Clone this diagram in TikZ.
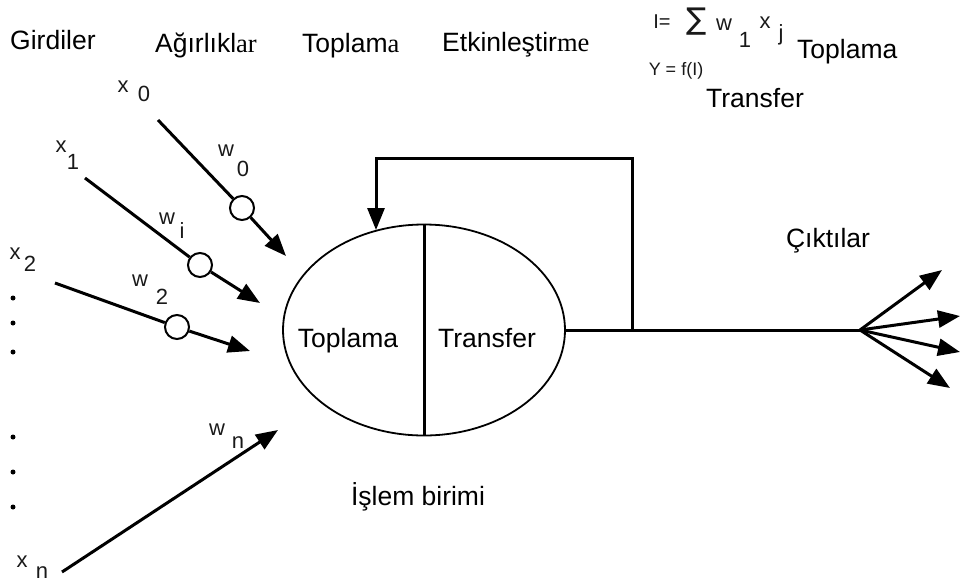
\documentclass[tikz,border=0pt]{standalone}
\usepackage{fontspec}
\setmainfont{Liberation Sans}
\newfontfamily\serifpart{Liberation Serif}
\newfontfamily\sumfont{DejaVu Sans}
\usetikzlibrary{arrows.meta,shapes.geometric}
\begin{document}
\begin{tikzpicture}[x=1pt,y=-1pt,
  big/.style={font=\fontsize{26.5}{29}\selectfont, inner sep=0pt, anchor=base west},
  lbl/.style={font=\fontsize{22}{24}\selectfont, text=black!90, inner sep=0pt},
  sml/.style={font=\fontsize{18}{20}\selectfont, text=black!90, inner sep=0pt},
  wire/.style={line width=3pt},
  arr/.style={wire, -{Triangle[length=22pt,width=17pt]}},
  wcirc/.style={circle, draw, line width=2pt, fill=white, minimum size=24pt, inner sep=0pt},
  dotn/.style={circle, fill=black, minimum size=5pt, inner sep=0pt}]
\useasboundingbox (0,0) rectangle (960,584);

% top titles
\node[big] (tg) at (10,49) {Girdiler};
\node[big] (ta) at (155,52) {Ağırlıkl{\serifpart ar}};
\node[big] (tt) at (302,52) {Toplam{\serifpart a}};
\node[big] (te) at (442,51) {Etkinleştir{\serifpart me}};

% formula
\node[font=\fontsize{20}{22}\selectfont, inner sep=0pt, text=black!90] (fI) at (662,22) {I=};
\node[font=\sumfont\fontsize{30}{32}\selectfont, inner sep=0pt, text=black!90] (fS) at (697,22) {∑};
\node[lbl] (fw) at (724,25) {w};
\node[lbl] (f1) at (745,40) {1};
\node[lbl] (fx) at (765,23) {x};
\node[lbl] (fj) at (781,35) {j};
\node[big] (ft) at (797,58) {Toplama};
\node[sml] (fY) at (676,71) {Y = f(I)};
\node[big] (ftr) at (706,107) {Transfer};

% processing unit
\node[draw, ellipse, line width=1.8pt, minimum width=282pt, minimum height=211pt, inner sep=0pt] (E) at (424,330) {};
\draw[wire] (E.north) -- (E.south);
\node[big, anchor=base] (el) at (348,347) {Toplama};
\node[big, anchor=base] (er) at (487,347) {Transfer};
\node[big, anchor=center] (eb) at (418,497) {İşlem birimi};

% inputs
\node[lbl] (x0a) at (123,87) {x};
\node[lbl] (x0b) at (144,94) {0};
\coordinate (s0) at (158,120);
\node[wcirc] (c0) at (242,208) {};
\coordinate (e0) at (286,256);
\draw[wire] (s0) -- (c0);
\draw[arr] (c0) -- (e0);
\node[lbl] (w0a) at (226,151) {w};
\node[lbl] (w0b) at (243,169) {0};

\node[lbl] (x1a) at (61,147) {x};
\node[lbl] (x1b) at (73,162) {1};
\coordinate (s1) at (85,178);
\node[wcirc] (c1) at (200,265) {};
\coordinate (e1) at (260,303);
\draw[wire] (s1) -- (c1);
\draw[arr] (c1) -- (e1);
\node[lbl] (wia) at (167,219) {w};
\node[lbl] (wib) at (182,231) {i};

\node[lbl] (x2a) at (15,254) {x};
\node[lbl] (x2b) at (30,264) {2};
\coordinate (s2) at (55,283);
\node[wcirc] (c2) at (177,327) {};
\coordinate (e2) at (250,351);
\draw[wire] (s2) -- (c2);
\draw[arr] (c2) -- (e2);
\node[lbl] (w2a) at (140,281) {w};
\node[lbl] (w2b) at (162,297) {2};

\node[dotn] (d1) at (13,298) {};
\node[dotn] (d2) at (13,323) {};
\node[dotn] (d3) at (13,352) {};
\node[dotn] (d4) at (13,437) {};
\node[dotn] (d5) at (13,472) {};
\node[dotn] (d6) at (13,507) {};

\node[lbl] (xna) at (22,562) {x};
\node[lbl] (xnb) at (42,573) {n};
\coordinate (sn) at (62,572);
\coordinate (en) at (278,430);
\draw[arr] (sn) -- (en);
\node[lbl] (wna) at (217,430) {w};
\node[lbl] (wnb) at (238,443) {n};

% output and feedback
\coordinate (br) at (632,330);
\coordinate (fan) at (860,330);
\coordinate (fbtop) at (376,158);
\coordinate (fbtip) at (376,230);
\draw[wire] (E.east) -- (fan);
\draw[arr] (br) |- (fbtop) -- (fbtip);
\coordinate (o1) at (942,270);
\coordinate (o2) at (960,316);
\coordinate (o3) at (960,352);
\coordinate (o4) at (950,388);
\draw[arr] (fan) -- (o1);
\draw[arr] (fan) -- (o2);
\draw[arr] (fan) -- (o3);
\draw[arr] (fan) -- (o4);
\node[big, anchor=center] (cik) at (828,241) {Çıktılar};
\end{tikzpicture}
\end{document}
